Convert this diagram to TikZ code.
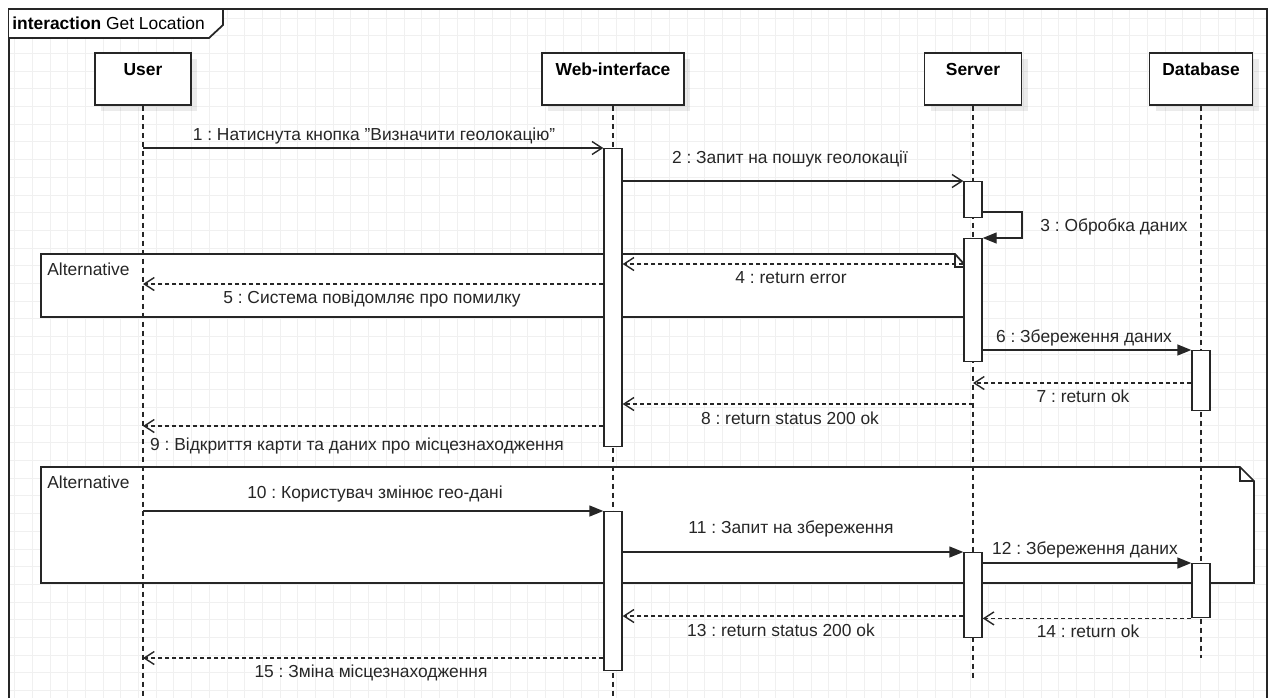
\documentclass[tikz,border=0pt]{standalone}
\usepackage{fontspec}
\setmainfont{Liberation Sans}
\usetikzlibrary{arrows.meta,shadows}
\frenchspacing
\newcommand\msgsize{\fontsize{9.9pt}{12pt}\selectfont}
\def\tabshape{(9,9) -- (223,9) -- (223,25) -- (209,38) -- (9,38)}
\def\firstalt{(41,254) -- (955,254) -- (964,264) -- (964,317) -- (41,317) -- cycle}
\def\secondalt{(41,467) -- (1240,467) -- (1254,481) -- (1254,583) -- (41,583) -- cycle}
\tikzset{
  gridline/.style={black!6, line width=0.5pt},
  frame/.style={black!85, line width=1pt},
  head/.style={draw=black!85, fill=white, line width=1pt, inner sep=0pt, anchor=north,
    text height=0.46cm, text depth=0.58cm, font=\msgsize\bfseries,
    drop shadow={shadow xshift=0.12cm, shadow yshift=-0.12cm, opacity=0.08, fill=black}},
  act/.style={draw=black!85, fill=white, line width=0.8pt, inner sep=0pt, anchor=north,
    minimum width=0.36cm},
  life/.style={black!85, line width=0.7pt, dash pattern=on 0.1cm off 0.08cm},
  msg/.style={black!85, line width=0.8pt, -{Straight Barb[length=0.2cm,width=0.26cm]}},
  ret/.style={msg, dash pattern=on 0.08cm off 0.06cm},
  call/.style={black!85, line width=0.8pt, -{Triangle[length=0.28cm,width=0.22cm]}},
  lbl/.style={inner sep=0pt, anchor=base, text=black!85, font=\msgsize},
}

\begin{document}
\begin{tikzpicture}[x=0.02cm, y=-0.02cm]
\useasboundingbox (0,0) rectangle (1271,698);
% grid
\foreach \gx in {0,...,70} \draw[gridline] ({14.6+17.7*\gx},9) -- ++(0,689);
\foreach \gy in {1,...,39} \draw[gridline] (9,{0.3+17.7*\gy}) -- ++(1258,0);
% frame
\draw[frame] (9,698) -- (9,9) -- (1267,9) -- (1267,698);
\draw[frame, fill=white] \tabshape;
\node[inner sep=0pt, anchor=base west, font=\msgsize] (title) at (12,29) {\textbf{interaction} Get Location};

% alternatives
\draw[frame, fill=white] \firstalt;
\draw[frame] (955,254) |- (964,267);
\node[lbl, anchor=base west] (alt1) at (47,275) {Alternative};
\draw[frame, fill=white] \secondalt;
\draw[frame] (1240,467) |- (1254,481);
\node[lbl, anchor=base west] (alt2) at (47,488) {Alternative};

% lifelines
\node[head, minimum width=1.92cm] (user) at (143,52) {User};
\node[head, minimum width=2.84cm] (web) at (613,52) {Web-interface};
\node[head, minimum width=1.94cm] (server) at (973,52) {Server};
\node[head, minimum width=2.06cm] (db) at (1201,52) {Database};
\coordinate (uend) at (143,698);
\coordinate (wend) at (613,698);
\coordinate (send) at (973,678);
\coordinate (dend) at (1201,658);
\draw[life] (user.south) -- (uend);
\draw[life] (web.south) -- (wend);
\draw[life] (server.south) -- (send);
\draw[life] (db.south) -- (dend);

% activations
\node[act, minimum height=5.96cm] (wa1) at (613,148) {};
\node[act, minimum height=3.18cm] (wa2) at (613,511) {};
\node[act, minimum height=0.72cm] (sa1) at (973,181) {};
\node[act, minimum height=2.46cm] (sa2) at (973,238) {};
\node[act, minimum height=1.7cm] (sa3) at (973,552) {};
\node[act, minimum height=1.2cm] (da1) at (1201,350) {};
\node[act, minimum height=1.08cm] (da2) at (1201,563) {};

% rows
\coordinate (c3) at (1022,212);
\coordinate (r4) at (0,264);
\coordinate (r5) at (0,284);
\coordinate (r7) at (0,383);
\coordinate (r8) at (0,404);
\coordinate (r9) at (0,426);
\coordinate (r13) at (0,616);
\coordinate (r15) at (0,658);

% messages
\draw[msg] (user.south |- wa1.north) -- (wa1.north west);
\node[lbl] (l1) at (374,140) {1 : Натиснута кнопка \symbol{34}Визначити геолокацію\symbol{34}};
\draw[msg] (wa1.east |- sa1.north) -- (sa1.north west);
\node[lbl] (l2) at (790,163) {2 : Запит на пошук геолокації};
\draw[call] (sa1.east |- c3) -- (c3) |- (sa2.north east);
\node[lbl, anchor=base west] (l3) at (1040,231) {3 : Обробка даних};
\draw[ret] (sa2.west |- r4) -- (wa1.east |- r4);
\node[lbl] (l4) at (791,283) {4 : return error};
\draw[ret] (wa1.west |- r5) -- (user.south |- r5);
\node[lbl] (l5) at (372,303) {5 : Система повідомляє про помилку};
\draw[call] (sa2.east |- da1.north) -- (da1.north west);
\node[lbl] (l6) at (1084,342) {6 : Збереження даних};
\draw[ret] (da1.west |- r7) -- (server.south |- r7);
\node[lbl] (l7) at (1083,402) {7 : return ok};
\draw[ret] (server.south |- r8) -- (wa1.east |- r8);
\node[lbl] (l8) at (790,424) {8 : return status 200 ok};
\draw[ret] (wa1.west |- r9) -- (user.south |- r9);
\node[lbl] (l9) at (357,450) {9 : Відкриття карти та даних про місцезнаходження};
\draw[call] (user.south |- wa2.north) -- (wa2.north west);
\node[lbl] (l10) at (375,498) {10 : Користувач змінює гео-дані};
\draw[call] (wa2.east |- sa3.north) -- (sa3.north west);
\node[lbl] (l11) at (791,533) {11 : Запит на збереження};
\draw[call] (sa3.east |- da2.north) -- (da2.north west);
\node[lbl] (l12) at (1085,554) {12 : Збереження даних};
\draw[ret] (sa3.west |- r13) -- (wa2.east |- r13);
\node[lbl] (l13) at (781,636) {13 : return status 200 ok};
\draw[ret] (da2.south west) -- (sa3.east |- da2.south);
\node[lbl] (l14) at (1088,637) {14 : return ok};
\draw[ret] (wa2.west |- r15) -- (user.south |- r15);
\node[lbl] (l15) at (371,677) {15 : Зміна місцезнаходження};
\end{tikzpicture}
\end{document}
